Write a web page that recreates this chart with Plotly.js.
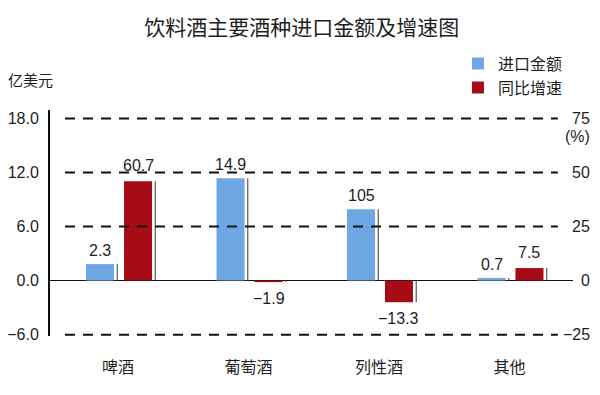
<!DOCTYPE html>
<html><head><meta charset="utf-8">
<script src="https://cdn.plot.ly/plotly-3.0.1.min.js"></script>
<style>html,body{margin:0;padding:0;background:#fff;}#chart{width:600px;height:395px;}</style>
</head><body><div id="chart"></div>
<script>
// ---- data ----
const categories = ['啤酒', '葡萄酒', '列性酒', '其他'];
const importValues = [1.83, 11.36, 7.93, 0.3];        // 进口金额, 亿美元 (bar heights as drawn)
const importLabels = ['2.3', '14.9', '105', '0.7'];   // printed labels
const growthValues = [46.0, -0.7, -10.0, 5.8];        // 同比增速, % (bar heights as drawn)
const growthLabels = ['60.7', '\u22121.9', '\u221213.3', '7.5'];
const leftTicks = [18, 12, 6, 0, -6];
const leftTickText = ['18.0', '12.0', '6.0', '0.0', '\u22126.0'];
const rightTicks = [75, 50, 25, 0, -25];
const rightTickText = ['75', '50', '25', '0', '\u221225'];

// ---- styling ----
const FONT = '"Liberation Sans", Arial, "Noto Sans CJK SC", sans-serif';
const CJK = '"Noto Sans CJK SC", sans-serif';
const TXT = '#1e1e1e';
const BLUE = '#6ea7e4';
const RED = '#a60c15';
const BW = 0.215;
const OFF_B = -0.245, OFF_R = 0.046;
const SH_W = 0.009, SH_GAP = 0.02;
const YMIN = -6.15, YMAX = 18.94;

const traces = [
  {type: 'bar', name: '进口金额', x: categories, y: importValues, yaxis: 'y',
   width: BW, offset: OFF_B, marker: {color: BLUE}, hoverinfo: 'skip'},
  {type: 'bar', name: '同比增速', x: categories, y: growthValues, yaxis: 'y2',
   width: BW, offset: OFF_R, marker: {color: RED}, hoverinfo: 'skip'},
  {type: 'bar', x: categories, y: importValues, yaxis: 'y', showlegend: false,
   width: SH_W, offset: OFF_B + BW + SH_GAP, marker: {color: '#555'}, hoverinfo: 'skip'},
  {type: 'bar', x: categories, y: growthValues, yaxis: 'y2', showlegend: false,
   width: SH_W, offset: OFF_R + BW + SH_GAP, marker: {color: '#555'}, hoverinfo: 'skip'}
];

const annotations = [];
importValues.forEach((v, i) => annotations.push({
  x: i + OFF_B + BW / 2, y: v, xref: 'x', yref: 'y', text: importLabels[i], showarrow: false,
  yanchor: v >= 0 ? 'bottom' : 'top', yshift: v >= 0 ? 3 : -5, font: {family: FONT, size: 16, color: TXT}
}));
growthValues.forEach((v, i) => annotations.push({
  x: i + OFF_R + BW / 2, y: v, xref: 'x', yref: 'y2', text: growthLabels[i], showarrow: false,
  yanchor: v >= 0 ? 'bottom' : 'top', yshift: v >= 0 ? 5 : -6, font: {family: FONT, size: 16, color: TXT}
}));
rightTicks.forEach((t, i) => annotations.push({
  x: 1.0363, xref: 'paper', y: t, yref: 'y2', text: rightTickText[i], showarrow: false,
  xanchor: 'right', yanchor: 'middle', font: {family: FONT, size: 16, color: TXT}
}));
annotations.push({x: 1.0363, xref: 'paper', y: 1 - (136 - 110) / 225, yref: 'paper', text: '(%)',
  showarrow: false, xanchor: 'right', yanchor: 'middle', font: {family: FONT, size: 16, color: TXT}});
annotations.push({x: -0.084, xref: 'paper', y: 1 + (110 - 80) / 225, yref: 'paper', text: '亿美元',
  showarrow: false, xanchor: 'left', yanchor: 'middle', font: {family: CJK, size: 15, color: TXT}});

const shapes = leftTicks.filter(t => t !== 0).map(t => ({
  type: 'line', xref: 'paper', yref: 'y', x0: 0.0287, x1: 0.971, y0: t, y1: t,
  line: {color: '#111', width: 2, dash: '10px,8px'}
}));

const layout = {
  width: 600, height: 395,
  margin: {l: 50, r: 27, t: 110, b: 59},
  paper_bgcolor: '#fff', plot_bgcolor: '#fff',
  font: {family: FONT, color: TXT, size: 16},
  title: {text: '饮料酒主要酒种进口金额及增速图', x: 0.503, xref: 'container', xanchor: 'center',
          y: 1 - 28 / 395, yref: 'container', yanchor: 'middle',
          font: {family: CJK, size: 21, color: TXT}},
  barmode: 'overlay',
  showlegend: true,
  legend: {x: 0.78, xanchor: 'left', y: 1.28, yanchor: 'top', orientation: 'v',
           font: {family: CJK, size: 16, color: TXT}, bgcolor: 'rgba(0,0,0,0)',
           tracegroupgap: 0, itemwidth: 30},
  xaxis: {type: 'category', range: [-0.521, 3.487], showgrid: false, zeroline: false, showline: false,
          ticks: '', ticklabelstandoff: 20, tickfont: {family: CJK, size: 16, color: TXT}, fixedrange: true},
  yaxis: {range: [YMIN, YMAX], tickvals: leftTicks, ticktext: leftTickText, showgrid: false,
          zeroline: true, zerolinecolor: '#111', zerolinewidth: 1.3,
          showline: true, linecolor: '#111', linewidth: 2, ticks: '',
          tickfont: {family: FONT, size: 16, color: TXT}, ticklabelstandoff: 6},
  yaxis2: {overlaying: 'y', side: 'right', range: [YMIN * 25 / 6, YMAX * 25 / 6], showgrid: false,
           zeroline: false, showline: false, showticklabels: false, ticks: ''},
  annotations: annotations,
  shapes: shapes
};

Plotly.newPlot('chart', traces, layout, {displayModeBar: false, staticPlot: true});
</script>
</body></html>
